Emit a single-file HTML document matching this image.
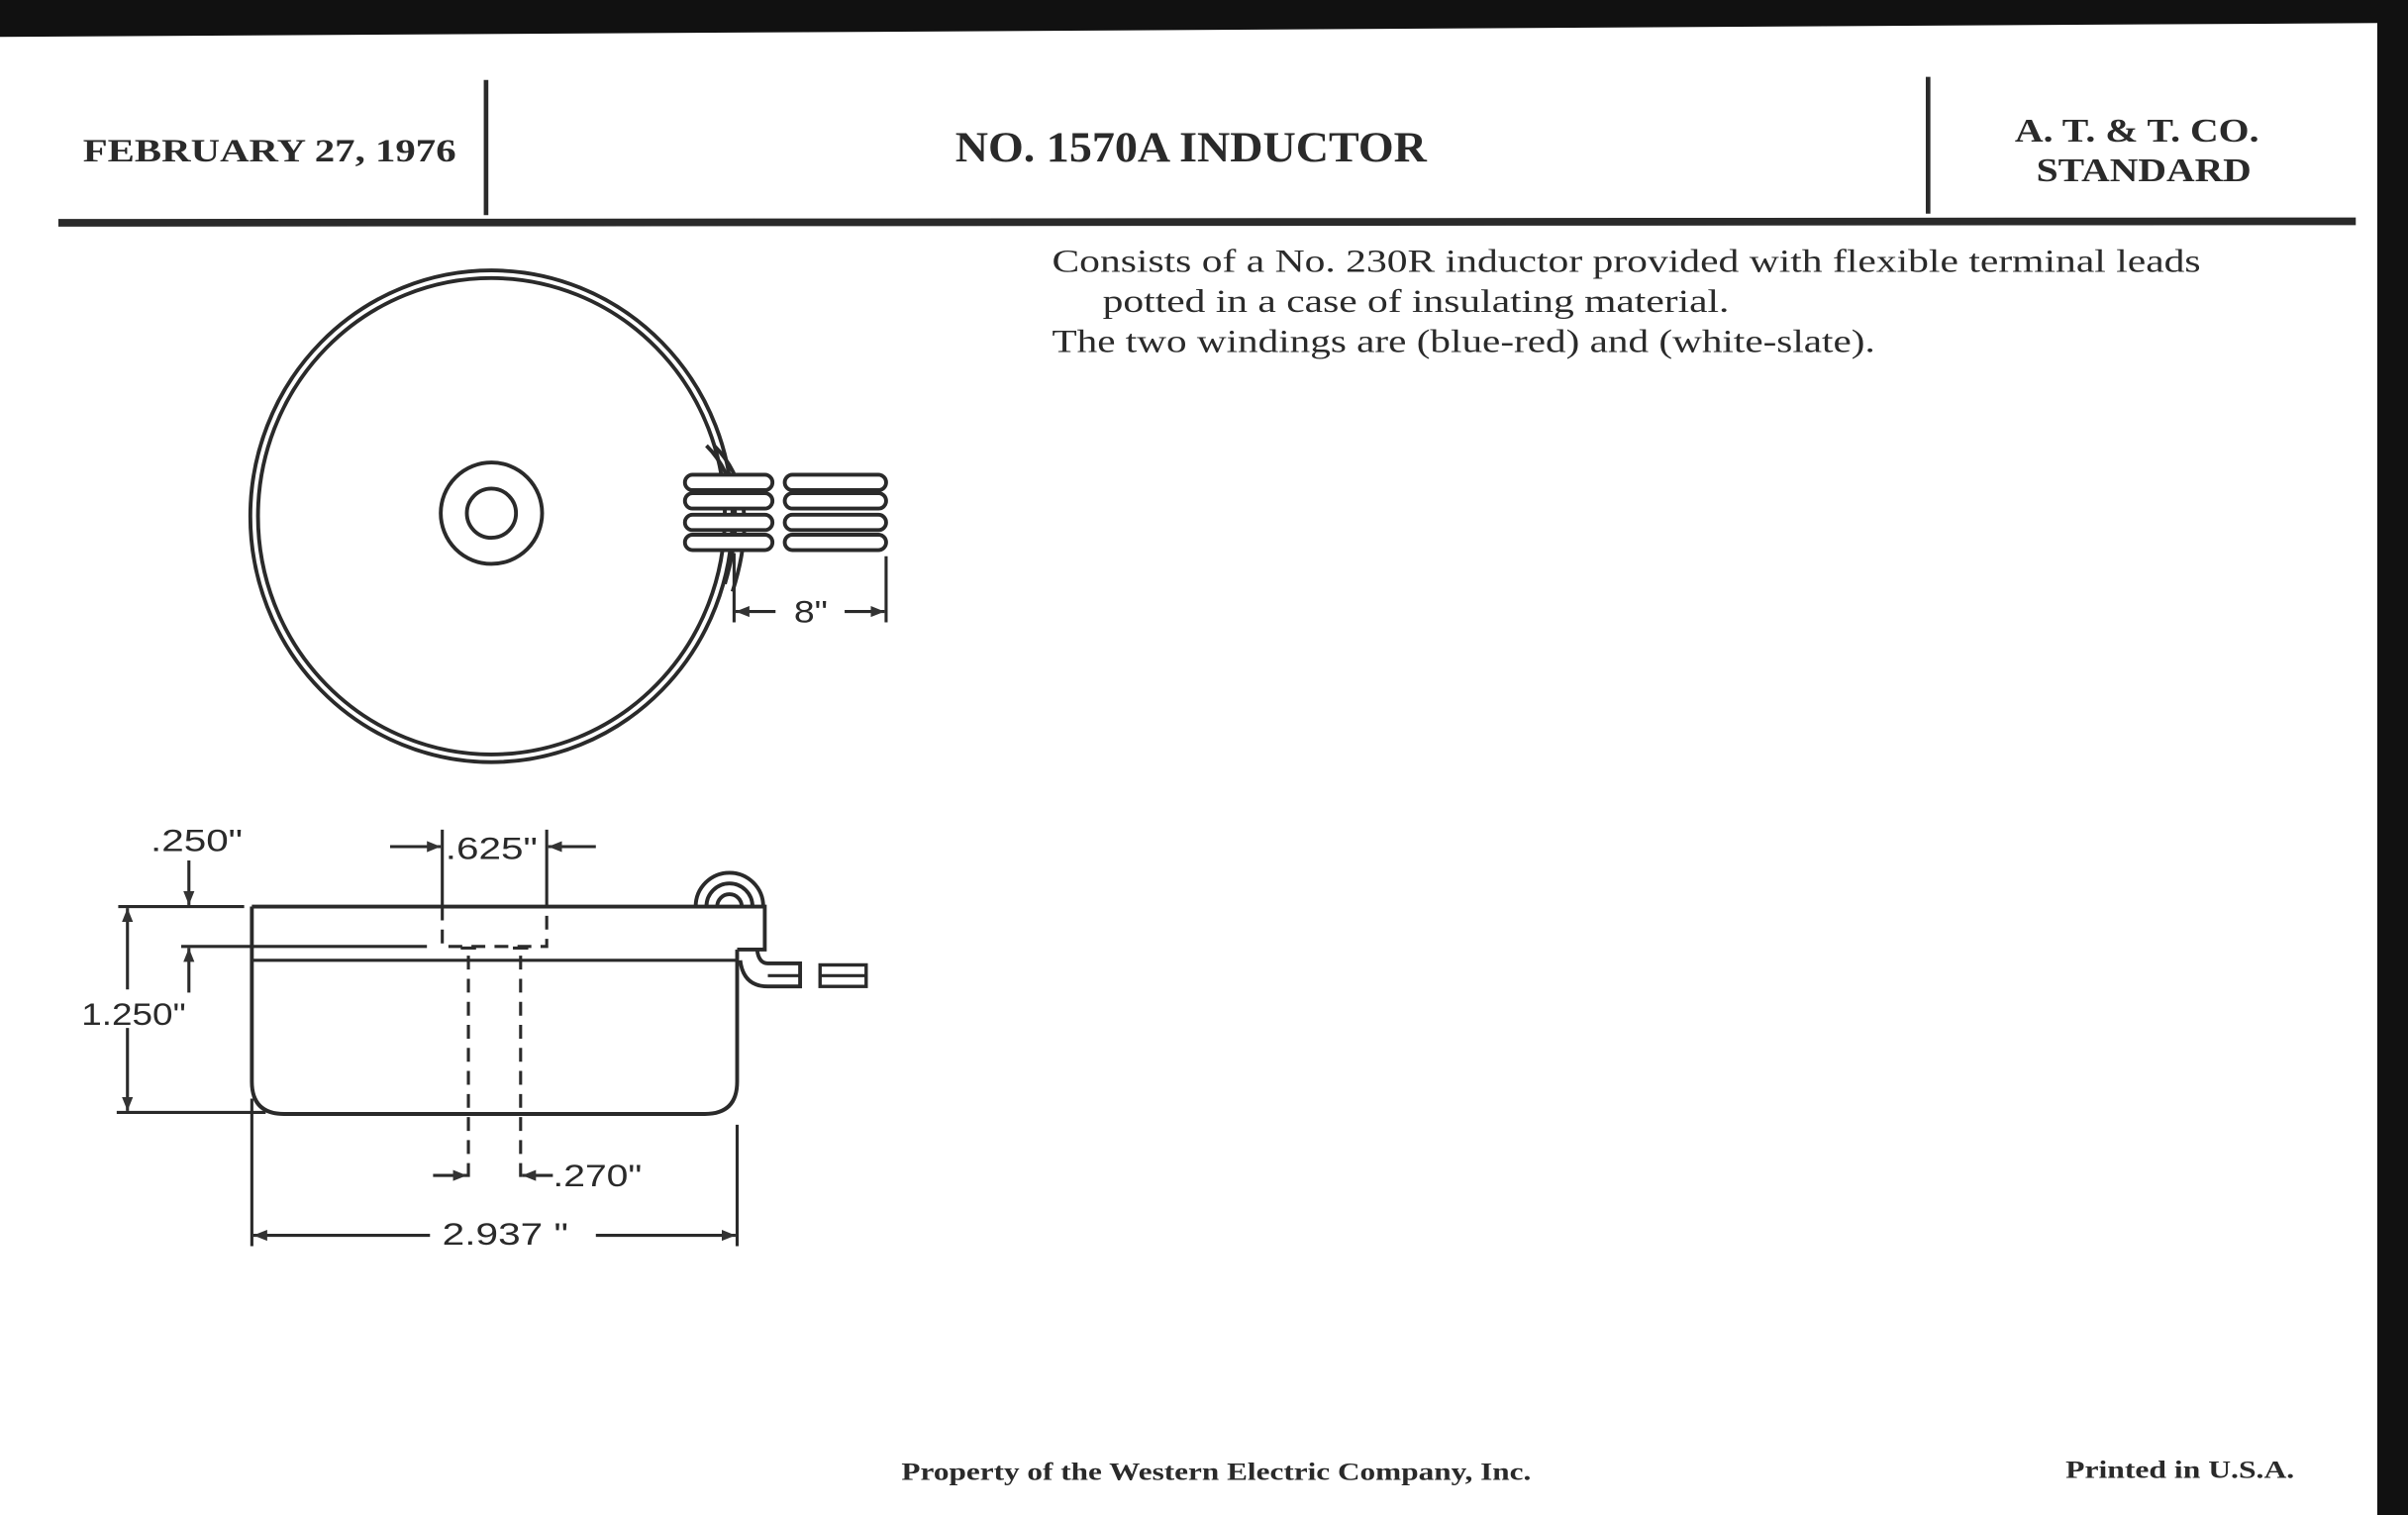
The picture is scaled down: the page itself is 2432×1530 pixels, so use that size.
<!DOCTYPE html>
<html><head><meta charset="utf-8"><style>
html,body{margin:0;padding:0;background:#fff;}
svg{display:block;}
</style></head><body>
<svg width="2432" height="1530" viewBox="0 0 1568 986" preserveAspectRatio="none" xmlns="http://www.w3.org/2000/svg">
<defs>
<marker id="a" viewBox="0 0 10 10" refX="10" refY="5" markerWidth="9" markerHeight="9" markerUnits="userSpaceOnUse" orient="auto"><path d="M0,1 L10,5 L0,9 z" fill="#333"/></marker>
</defs>
<rect width="1568" height="986" fill="#fff"/>
<!-- scan borders -->
<polygon points="0,0 1568,0 1568,986 1548,986 1548,15 0,24" fill="#111"/>
<!-- header -->
<g stroke="#2a2a2a" fill="none">
<line x1="316.5" y1="52" x2="316.5" y2="140" stroke-width="3"/>
<line x1="1255.5" y1="50" x2="1255.5" y2="139" stroke-width="3"/>
<line x1="38" y1="145" x2="1534" y2="144" stroke-width="5"/>
</g>
<g font-family="Liberation Serif, serif" font-weight="bold" fill="#2a2a2a">
<text x="54" y="105" font-size="21" textLength="243" lengthAdjust="spacingAndGlyphs">FEBRUARY 27, 1976</text>
<text x="622" y="105" font-size="28" textLength="307" lengthAdjust="spacingAndGlyphs">NO. 1570A INDUCTOR</text>
<text x="1312" y="92" font-size="22" textLength="159" lengthAdjust="spacingAndGlyphs">A. T. &amp; T. CO.</text>
<text x="1326" y="118" font-size="22" textLength="140" lengthAdjust="spacingAndGlyphs">STANDARD</text>
</g>
<g font-family="Liberation Serif, serif" fill="#2a2a2a" font-size="21">
<text x="685" y="177" textLength="748" lengthAdjust="spacingAndGlyphs">Consists of a No. 230R inductor provided with flexible terminal leads</text>
<text x="718" y="203" textLength="408" lengthAdjust="spacingAndGlyphs">potted in a case of insulating material.</text>
<text x="685" y="229" textLength="536" lengthAdjust="spacingAndGlyphs">The two windings are (blue-red) and (white-slate).</text>
</g>
<g font-family="Liberation Serif, serif" font-weight="bold" fill="#2a2a2a" font-size="16">
<text x="587" y="963" textLength="410" lengthAdjust="spacingAndGlyphs">Property of the Western Electric Company, Inc.</text>
<text x="1345" y="962" textLength="149" lengthAdjust="spacingAndGlyphs">Printed in U.S.A.</text>
</g>
<!-- top view -->
<g stroke="#2a2a2a" fill="none" stroke-width="2.5">
<ellipse cx="320" cy="336" rx="157" ry="160"/>
<ellipse cx="320" cy="336" rx="152" ry="155"/>
<circle cx="320" cy="334" r="33"/>
<circle cx="320" cy="334" r="16"/>
<path d="M460,290 Q490,320 472,380"/>
<path d="M465,290 Q497,322 477,385"/>
</g>
<g stroke="#2a2a2a" fill="#fff" stroke-width="2.5">
<rect x="446" y="309" width="57" height="10" rx="5"/>
<rect x="446" y="321" width="57" height="10" rx="5"/>
<rect x="446" y="335" width="57" height="10" rx="5"/>
<rect x="446" y="348" width="57" height="10" rx="5"/>
<rect x="511" y="309" width="66" height="10" rx="5"/>
<rect x="511" y="321" width="66" height="10" rx="5"/>
<rect x="511" y="335" width="66" height="10" rx="5"/>
<rect x="511" y="348" width="66" height="10" rx="5"/>
</g>
<g stroke="#2a2a2a" fill="none" stroke-width="2">
<line x1="478" y1="360" x2="478" y2="405"/>
<line x1="577" y1="362" x2="577" y2="405"/>
<line x1="505" y1="398" x2="479" y2="398" marker-end="url(#a)"/>
<line x1="550" y1="398" x2="576" y2="398" marker-end="url(#a)"/>
</g>
<!-- side view -->
<g stroke="#2a2a2a" fill="none" stroke-width="2.5">
<path d="M164,590 L498,590 L498,618 L480,618"/>
<path d="M164,590 L164,704 Q164,725 185,725 L459,725 Q480,725 480,704 L480,618"/>
<line x1="164" y1="625" x2="480" y2="625" stroke-width="2"/>
<path d="M453,590 A22,22 0 0 1 497,590"/>
<path d="M460,590 A15,15 0 0 1 490,590"/>
<path d="M467,590 A8,8 0 0 1 483,590"/>
<path d="M482,625 Q484,642 500,642 L521,642 L521,627 L500,627 Q494,627 493,618"/>
<rect x="534" y="628" width="30" height="14" stroke-width="2.2"/>
<line x1="534" y1="635" x2="564" y2="635" stroke-width="2"/>
<line x1="500" y1="635" x2="521" y2="635" stroke-width="2"/>
</g>
<g stroke="#2a2a2a" fill="none" stroke-width="2">
<path d="M288,590 L288,616 L356,616 L356,590" stroke-dasharray="9,6"/>
<line x1="305" y1="622" x2="305" y2="771" stroke-dasharray="9,6"/>
<line x1="339" y1="622" x2="339" y2="771" stroke-dasharray="9,6"/>
<line x1="300" y1="617" x2="310" y2="617"/>
<line x1="334" y1="617" x2="344" y2="617"/>
<!-- .625 -->
<line x1="288" y1="540" x2="288" y2="590"/>
<line x1="356" y1="540" x2="356" y2="590"/>
<line x1="254" y1="551" x2="287" y2="551" marker-end="url(#a)"/>
<line x1="388" y1="551" x2="357" y2="551" marker-end="url(#a)"/>
<!-- .250 -->
<line x1="77" y1="590" x2="159" y2="590"/>
<line x1="118" y1="616" x2="278" y2="616"/>
<line x1="123" y1="560" x2="123" y2="589" marker-end="url(#a)"/>
<line x1="123" y1="646" x2="123" y2="617" marker-end="url(#a)"/>
<!-- 1.250 -->
<line x1="83" y1="644" x2="83" y2="591" marker-end="url(#a)"/>
<line x1="83" y1="669" x2="83" y2="723" marker-end="url(#a)"/>
<line x1="76" y1="724" x2="173" y2="724"/>
<!-- .270 -->
<line x1="282" y1="765" x2="304" y2="765" marker-end="url(#a)"/>
<line x1="360" y1="765" x2="340" y2="765" marker-end="url(#a)"/>
<!-- 2.937 -->
<line x1="164" y1="715" x2="164" y2="811"/>
<line x1="480" y1="732" x2="480" y2="811"/>
<line x1="280" y1="804" x2="165" y2="804" marker-end="url(#a)"/>
<line x1="388" y1="804" x2="479" y2="804" marker-end="url(#a)"/>
</g>
<g font-family="Liberation Sans, sans-serif" fill="#2a2a2a" font-size="20">
<text x="98" y="554" textLength="60" lengthAdjust="spacingAndGlyphs">.250"</text>
<text x="290" y="559" textLength="60" lengthAdjust="spacingAndGlyphs">.625"</text>
<text x="53" y="667" textLength="68" lengthAdjust="spacingAndGlyphs">1.250"</text>
<text x="360" y="772" textLength="58" lengthAdjust="spacingAndGlyphs">.270"</text>
<text x="288" y="810" textLength="82" lengthAdjust="spacingAndGlyphs">2.937 "</text>
<text x="517" y="405" textLength="22" lengthAdjust="spacingAndGlyphs">8"</text>
</g>
</svg>
</body></html>
